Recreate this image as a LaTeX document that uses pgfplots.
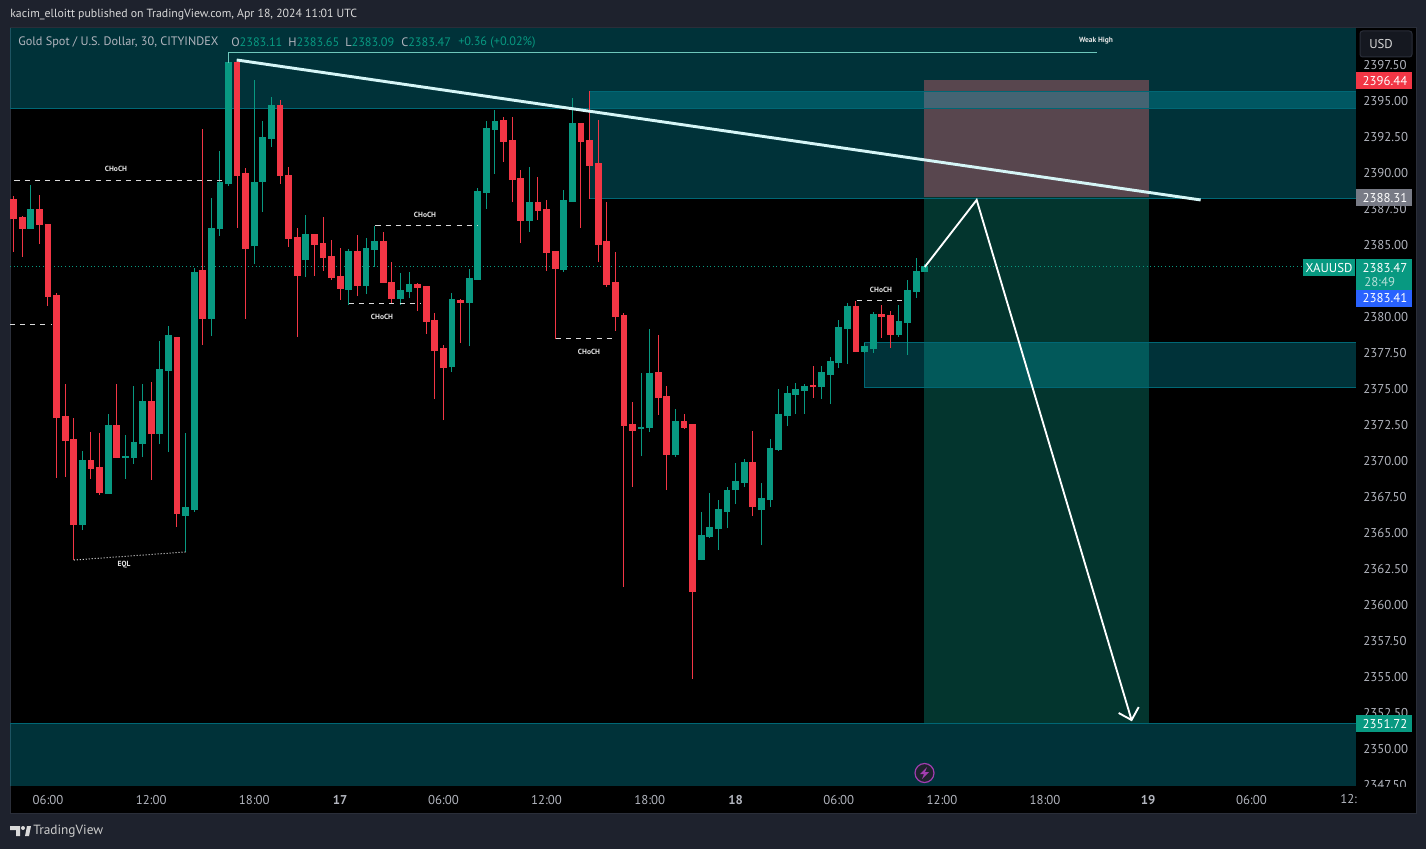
\documentclass[border=0pt]{standalone}
\usepackage{fontspec}
\setmainfont{PT Sans}
\usepackage{pgfplots}
\usepackage{pgfplotstable}
\pgfplotsset{compat=1.18}

\definecolor{panel}{HTML}{1E222D}
\definecolor{edge}{HTML}{2A2E39}
\definecolor{upc}{HTML}{089981}
\definecolor{dnc}{HTML}{F23645}
\definecolor{zonec}{RGB}{0,187,212}
\definecolor{txt}{HTML}{B2B5BE}
\definecolor{lightline}{HTML}{D5F5F6}
\definecolor{riskc}{RGB}{88,70,78}
\definecolor{riskband}{RGB}{68,100,115}
\definecolor{rewardc}{RGB}{3,53,46}
\definecolor{tagblue}{HTML}{2962FF}
\definecolor{taggrey}{HTML}{787B86}
\definecolor{boltc}{HTML}{A23DB0}

% x = bar number, prices in USD
\pgfplotstableread{
x o h l c
0 2388.09 2388.37 2384.48 2386.77
1 2386.84 2386.98 2384.13 2386.08
3 2387.40 2388.44 2385.03 2386.35
4 2386.35 2386.35 2380.73 2381.36
5 2381.43 2381.63 2368.79 2372.95
6 2373.02 2375.31 2368.86 2371.35
7 2371.42 2372.95 2363.09 2365.52
9 2369.97 2371.98 2368.72 2369.41
10 2369.48 2371.91 2367.61 2367.75
12 2372.39 2375.31 2370.17 2370.17
16 2374.06 2375.45 2368.65 2371.84
19 2378.51 2378.51 2365.38 2366.29
22 2383.16 2393.02 2378.02 2379.83
26 2397.60 2397.74 2386.15 2389.76
27 2389.90 2390.31 2379.83 2384.69
31 2394.62 2395.04 2389.20 2389.76
32 2389.76 2390.38 2384.83 2385.38
33 2385.45 2386.15 2378.58 2382.81
35 2385.66 2385.66 2382.81 2384.97
36 2385.03 2386.91 2383.16 2384.06
37 2384.13 2385.31 2382.53 2382.67
38 2382.74 2384.76 2381.15 2381.92
40 2384.48 2385.66 2381.42 2382.12
43 2385.17 2385.87 2382.33 2382.33
44 2382.33 2383.80 2380.94 2381.22
47 2382.19 2382.33 2380.39 2381.98
48 2382.05 2382.12 2378.79 2379.62
49 2379.69 2380.25 2374.27 2377.60
50 2377.74 2378.02 2372.81 2376.42
52 2381.08 2381.22 2378.16 2380.94
57 2393.58 2393.85 2390.73 2392.12
58 2392.19 2393.85 2387.95 2389.48
59 2389.55 2390.17 2385.10 2386.63
61 2387.88 2389.69 2386.70 2387.33
62 2387.40 2388.09 2383.16 2384.41
63 2384.48 2384.48 2378.44 2383.30
66 2393.37 2393.37 2386.15 2392.12
67 2392.19 2395.66 2388.16 2390.45
68 2390.59 2393.65 2383.80 2384.97
69 2385.17 2387.95 2382.05 2382.19
70 2382.33 2384.48 2379.00 2379.97
71 2380.04 2380.25 2361.21 2372.39
72 2372.46 2374.06 2368.16 2372.05
75 2376.08 2378.72 2373.16 2374.34
76 2374.41 2375.17 2367.95 2370.38
78 2372.67 2373.23 2372.19 2372.26
79 2372.46 2372.53 2354.83 2360.87
86 2369.83 2372.05 2366.15 2366.77
93 2375.17 2376.56 2374.34 2375.10
98 2380.66 2381.08 2377.56 2377.56
101 2380.11 2380.80 2378.51 2379.97
102 2380.04 2380.39 2377.82 2378.72
}\barsdown

\pgfplotstableread{
x o h l c
2 2386.08 2389.13 2386.08 2387.40
8 2365.52 2370.66 2365.17 2369.97
11 2367.68 2373.23 2367.68 2372.39
13 2370.17 2371.77 2368.72 2370.24
14 2370.17 2375.17 2369.76 2371.21
15 2371.14 2375.31 2370.24 2374.06
17 2371.84 2378.30 2371.14 2376.28
18 2376.21 2379.34 2370.59 2378.65
20 2366.15 2371.91 2363.65 2366.71
21 2366.57 2383.37 2366.43 2383.02
23 2379.83 2388.23 2378.65 2386.08
24 2386.08 2391.49 2385.59 2389.27
25 2389.20 2398.30 2389.06 2397.60
28 2384.87 2396.42 2383.66 2389.27
29 2389.34 2393.58 2387.26 2392.40
30 2392.33 2395.24 2391.77 2394.62
34 2383.93 2387.05 2382.74 2385.66
39 2381.84 2384.69 2380.80 2384.48
41 2382.12 2385.45 2381.56 2384.69
42 2384.62 2386.29 2383.44 2385.17
45 2381.22 2383.02 2380.80 2381.77
46 2381.70 2383.09 2381.29 2382.19
51 2376.49 2381.63 2376.14 2381.15
53 2380.94 2383.30 2377.95 2382.60
54 2382.53 2388.92 2382.53 2388.65
55 2388.58 2393.58 2387.47 2393.02
56 2392.95 2394.34 2389.90 2393.51
60 2386.63 2390.38 2385.87 2387.88
64 2383.23 2388.79 2383.09 2388.02
65 2387.95 2395.17 2387.95 2393.37
73 2372.22 2376.08 2370.31 2372.29
74 2372.26 2379.13 2371.98 2376.01
77 2370.38 2373.58 2370.24 2372.67
80 2363.09 2366.43 2363.09 2364.76
81 2364.69 2367.75 2364.62 2365.31
82 2365.24 2367.26 2363.79 2366.57
83 2366.43 2368.16 2365.31 2367.88
84 2367.95 2369.83 2366.98 2368.51
85 2368.44 2370.10 2368.16 2369.83
87 2366.57 2368.44 2364.13 2367.33
88 2367.26 2371.49 2366.77 2370.80
89 2370.73 2374.97 2370.66 2373.16
90 2373.09 2375.17 2372.39 2374.62
91 2374.55 2375.38 2373.23 2374.90
92 2374.83 2375.31 2373.23 2375.10
94 2375.10 2376.56 2374.27 2376.08
95 2375.94 2377.19 2373.92 2376.84
96 2376.77 2379.76 2376.42 2379.20
97 2379.13 2380.94 2376.70 2380.66
99 2377.56 2378.16 2377.49 2377.88
100 2377.74 2380.32 2377.49 2380.11
103 2378.72 2380.80 2378.58 2379.62
104 2379.55 2382.53 2377.33 2381.77
105 2381.70 2384.06 2381.29 2383.09
106 2383.11 2383.65 2383.09 2383.47
}\barsup

\pgfplotsset{
  wick/.style={forget plot, draw=none, mark=none, error bars/.cd, y dir=plus, y explicit, error mark=none,
    error bar style={line width=.75pt, color=#1}},
  body/.style={forget plot, draw=none, mark=none, error bars/.cd, y dir=plus, y explicit, error mark=none,
    error bar style={line width=5.1pt, color=#1}},
  zone/.style={forget plot, fill=zonec, fill opacity=.27, draw=none},
  zoneedge/.style={forget plot, draw=zonec!55!black, line width=.75pt},
  choch/.style={forget plot, draw=white!85!black, line width=.75pt, dash pattern=on 3.8pt off 3.8pt},
}
\tikzset{
  tinylabel/.style={font=\fontsize{5.6}{6}\selectfont\bfseries, text=white!90!black, inner sep=0pt},
  tag/.style={inner sep=0pt, font=\fontsize{9.6}{10}\selectfont, text=white},
  plain/.style={anchor=west, inner sep=0pt, font=\fontsize{9.6}{10}\selectfont, text=txt},
  val/.style={plain, font=\fontsize{9.2}{10}\selectfont},
}

\begin{document}
\begin{tikzpicture}
\begin{scope}[x=.75pt,y=-.75pt]
  \path[use as bounding box,fill=panel] (0,0) rectangle (1426,849);
  \fill[black] (10,28) rectangle (1416,813);
  \draw[edge,line width=.75pt] (10,28) rectangle (1416,813);
\end{scope}
\begin{axis}[
    at={(7.5pt,-589.5pt)}, anchor=south west,
    scale only axis, width=1009.5pt, height=568.5pt,
    xmin=-0.42, xmax=156.17, ymin=2347.40, ymax=2400.03,
    axis line style={draw=none},
    tick style={draw=none},
    xtick={4,16,28,38,50,62,74,84,96,108,120,132,144},
    xticklabels={06:00,12:00,18:00,\textbf{17},06:00,12:00,18:00,\textbf{18},06:00,12:00,18:00,\textbf{19},06:00},
    ytick={2347.5,2350,2352.5,2355,2357.5,2360,2362.5,2365,2367.5,2370,2372.5,2375,2377.5,2380,2385,2387.5,2390,2392.5,2395,2397.5},
    yticklabel pos=right,
    yticklabel style={/pgf/number format/fixed, /pgf/number format/fixed zerofill, /pgf/number format/precision=2, /pgf/number format/1000 sep={}, /pgf/number format/assume math mode=true},
    ticklabel style={font=\fontsize{9.6}{10}\selectfont, text=txt},
    y tick label style={anchor=west, xshift=2pt, yshift=-.3pt},
    x tick label style={yshift=-3.3pt, /pgf/number format/assume math mode=true},
    clip=true,
]
% zones behind the bars
\addplot[zone] coordinates {(-0.42,2400.03) (156.17,2400.03) (156.17,2394.45) (-0.42,2394.45)} --cycle;
\addplot[zone] coordinates {(-0.42,2351.72) (156.17,2351.72) (156.17,2347.40) (-0.42,2347.40)} --cycle;
\addplot[zone] coordinates {(67,2395.62) (156.17,2395.62) (156.17,2388.16) (67,2388.16)} --cycle;
\addplot[forget plot, fill=riskc, draw=none] coordinates {(105.92,2396.44) (132.07,2396.44) (132.07,2388.31) (105.92,2388.31)} --cycle;
\addplot[forget plot, fill=riskband, draw=none] coordinates {(105.92,2395.62) (132.07,2395.62) (132.07,2394.45) (105.92,2394.45)} --cycle;
\addplot[forget plot, fill=rewardc, draw=none] coordinates {(105.92,2388.31) (132.07,2388.31) (132.07,2351.72) (105.92,2351.72)} --cycle;
\addplot[zone] coordinates {(98.95,2378.16) (156.17,2378.16) (156.17,2375.10) (98.95,2375.10)} --cycle;
% zone borders
\addplot[zoneedge] coordinates {(-0.42,2394.45) (156.17,2394.45)};
\addplot[zoneedge] coordinates {(-0.42,2351.72) (156.17,2351.72)};
\addplot[zoneedge] coordinates {(67,2388.16) (67,2395.62) (156.17,2395.62)};
\addplot[zoneedge] coordinates {(67,2388.16) (156.17,2388.16)};
\addplot[zoneedge] coordinates {(98.95,2375.10) (98.95,2378.16) (156.17,2378.16)};
\addplot[zoneedge] coordinates {(98.95,2375.10) (156.17,2375.10)};
% last price
\addplot[forget plot, draw=upc, line width=.75pt, dash pattern=on .75pt off 2pt] coordinates {(-0.42,2383.47) (151,2383.47)};
% bars
\addplot[wick=dnc] table[x=x, y=l, y error expr=\thisrow{h}-\thisrow{l}] {\barsdown};
\addplot[body=dnc] table[x=x, y=c, y error expr=\thisrow{o}-\thisrow{c}+0.06] {\barsdown};
\addplot[wick=upc] table[x=x, y=l, y error expr=\thisrow{h}-\thisrow{l}] {\barsup};
\addplot[body=upc] table[x=x, y=o, y error expr=\thisrow{c}-\thisrow{o}+0.06] {\barsup};
% structure markings
\addplot[choch] coordinates {(0.1,2389.42) (24.3,2389.42)};
\addplot[choch] coordinates {(-0.42,2379.41) (4.5,2379.41)};
\addplot[choch] coordinates {(42.1,2386.29) (53.9,2386.29)};
\addplot[choch] coordinates {(39,2380.87) (47.4,2380.87)};
\addplot[choch] coordinates {(63.1,2378.44) (70.1,2378.44)};
\addplot[choch] coordinates {(98.1,2381.08) (103.9,2381.08)};
\addplot[forget plot, draw=white!90!black, line width=.75pt, dash pattern=on .75pt off 1.5pt] coordinates {(7,2363.09) (20,2363.65)};
\addplot[forget plot, draw=lightline!50!upc, line width=.8pt] coordinates {(25,2397.6) (25,2398.30) (126,2398.30)};
% drawn lines
\addplot[forget plot, draw=lightline, line width=2.2pt] coordinates {(25.95,2397.81) (138.1,2388.09)};
\addplot[forget plot, draw=white, line width=1.4pt, line join=miter] coordinates {(106,2383.44) (112.04,2388.09) (130.06,2351.98)};
\addplot[forget plot, draw=white, line width=1.4pt] coordinates {(128.56,2352.47) (130.06,2351.98) (130.89,2352.88)};
\end{axis}
\begin{scope}[x=.75pt,y=-.75pt]
  % text in the chart
  \node[tinylabel] at (116,169) {CHoCH};
  \node[tinylabel] at (425,215) {CHoCH};
  \node[tinylabel] at (382,317) {CHoCH};
  \node[tinylabel] at (589,352) {CHoCH};
  \node[tinylabel] at (881,290) {CHoCH};
  \node[tinylabel] at (124,565) {EQL};
  \node[tinylabel] at (1096,41) {Weak High};
  % header and legend
  \node[plain,font=\fontsize{8.85}{10}\selectfont,text=white!85!black] at (10,15) {kacim\_elloitt published on TradingView.com, Apr 18, 2024 11:01 UTC};
  \node[val] at (18,42) {Gold Spot / U.S. Dollar, 30, CITYINDEX};
  \node[val] at (231,42) {O\textcolor{upc}{2383.11}};
  \node[val] at (288,42) {H\textcolor{upc}{2383.65}};
  \node[val] at (345,42) {L\textcolor{upc}{2383.09}};
  \node[val] at (401,42) {C\textcolor{upc}{2383.47}};
  \node[val,text=upc] at (458,42) {+0.36 (+0.02\%)};
  % price scale: masks, button and tags
  \fill[black] (1356,29) rectangle (1415,60);
  \fill[black] (1356,787) rectangle (1415,812.5);
  \draw[edge,fill=panel!70!black,rounded corners=2pt,line width=.75pt] (1360,31) rectangle (1412,57);
  \node[plain,text=white!85!black] at (1369,44) {USD};
  \fill[dnc] (1356,72) rectangle (1412,89);
  \node[tag] at (1385,81) {2396.44};
  \fill[taggrey] (1356,189) rectangle (1412,206);
  \node[tag] at (1385,198) {2388.31};
  \fill[upc] (1303,259) rectangle (1355,276);
  \node[tag] at (1329,268) {XAUUSD};
  \fill[upc] (1356,259) rectangle (1412,290);
  \node[tag] at (1385,268) {2383.47};
  \node[plain,text=white!70!upc] at (1364,282) {28:49};
  \fill[tagblue] (1356,290) rectangle (1412,307);
  \node[tag] at (1385,298.5) {2383.41};
  \fill[upc] (1356,715) rectangle (1412,732);
  \node[tag] at (1385,724) {2351.72};
  % clipped time label
  \node[plain] at (1340,799.5) {12:};
  % bolt icon
  \draw[fill=panel,draw=boltc,line width=.9pt] (924.5,773) circle (9.5);
  \fill[boltc] (927,767) -- (920,774) -- (924,774) -- (922,779) -- (929,772) -- (925,772) -- cycle;
  % logo
  \fill[white!85!black] (10,826) -- (20,826) -- (20,836) -- (16,836) -- (16,830) -- (10,830) -- cycle;
  \fill[white!85!black] (23,828) circle (2);
  \fill[white!85!black] (25,836) -- (27,826) -- (31,826) -- (29,836) -- cycle;
  \node[plain,font=\fontsize{10}{11}\selectfont,text=white!80!black] at (33,831) {TradingView};
\end{scope}
\end{tikzpicture}
\end{document}
